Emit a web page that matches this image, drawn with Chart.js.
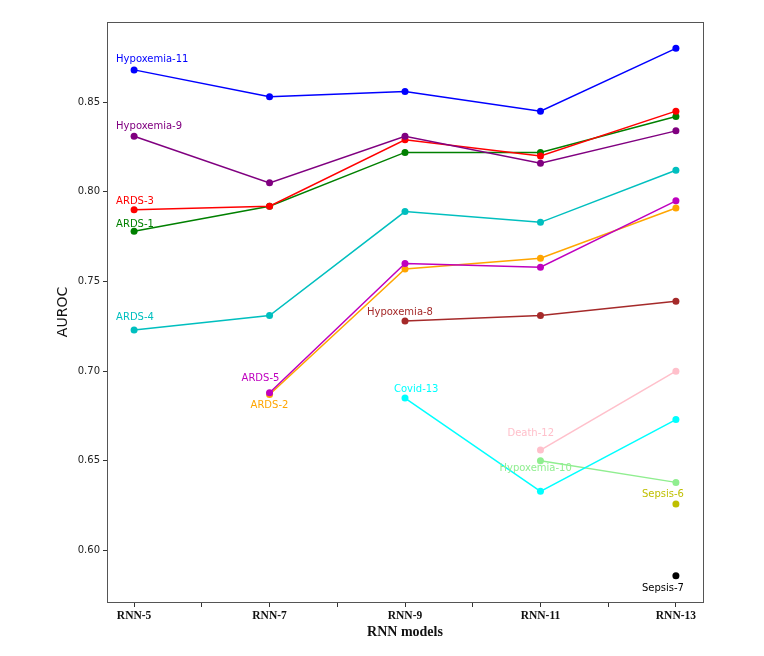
<!DOCTYPE html>
<html>
<head>
<meta charset="utf-8">
<script src="https://cdn.jsdelivr.net/npm/chart.js@4/dist/chart.umd.min.js"></script>
<style>
  body { margin: 0; background: #fff; }
</style>
</head>
<body>
<canvas id="chart" width="764" height="656"></canvas>
<script>
const models = ["RNN-5", "RNN-7", "RNN-9", "RNN-11", "RNN-13"];
const yTicks = [0.60, 0.65, 0.70, 0.75, 0.80, 0.85];
const xTicks = [0, 0.5, 1, 1.5, 2, 2.5, 3, 3.5, 4];

// AUROC per model, null where the task was not run
const hypoxemia11 = [0.868, 0.853, 0.856, 0.845, 0.880];
const hypoxemia9  = [0.831, 0.805, 0.831, 0.816, 0.834];
const ards3       = [0.790, 0.792, 0.829, 0.820, 0.845];
const ards1       = [0.778, 0.792, 0.822, 0.822, 0.842];
const ards4       = [0.723, 0.731, 0.789, 0.783, 0.812];
const ards5       = [null, 0.688, 0.760, 0.758, 0.795];
const ards2       = [null, 0.687, 0.757, 0.763, 0.791];
const hypoxemia8  = [null, null, 0.728, 0.731, 0.739];
const covid13     = [null, null, 0.685, 0.633, 0.673];
const death12     = [null, null, null, 0.656, 0.700];
const hypoxemia10 = [null, null, null, 0.650, 0.638];
const sepsis6     = [null, null, null, null, 0.626];
const sepsis7     = [null, null, null, null, 0.586];

const series = [
  { name: "Hypoxemia-11", values: hypoxemia11, color: "#0000ff", dx: -18, dy: -10 },
  { name: "Hypoxemia-9",  values: hypoxemia9,  color: "#800080", dx: -18, dy: -10 },
  { name: "ARDS-3",       values: ards3,       color: "#ff0000", dx: -18, dy: -8 },
  { name: "ARDS-1",       values: ards1,       color: "#008000", dx: -18, dy: -7 },
  { name: "ARDS-4",       values: ards4,       color: "#00bfbf", dx: -18, dy: -13 },
  { name: "ARDS-5",       values: ards5,       color: "#bf00bf", dx: -28, dy: -14 },
  { name: "ARDS-2",       values: ards2,       color: "#ffa500", dx: -19, dy: 11 },
  { name: "Hypoxemia-8",  values: hypoxemia8,  color: "#a52a2a", dx: -38, dy: -9 },
  { name: "Covid-13",     values: covid13,     color: "#00ffff", dx: -11, dy: -9 },
  { name: "Death-12",     values: death12,     color: "#ffc0cb", dx: -33, dy: -17 },
  { name: "Hypoxemia-10", values: hypoxemia10, color: "#90ee90", dx: -41, dy: 8 },
  { name: "Sepsis-6",     values: sepsis6,     color: "#bfbf00", dx: -34, dy: -9 },
  { name: "Sepsis-7",     values: sepsis7,     color: "#000000", dx: -34, dy: 13 },
];

const toPoints = vals => vals
  .map((v, i) => (v === null ? null : { x: i, y: v }))
  .filter(p => p !== null);

const seriesLabels = {
  id: "seriesLabels",
  afterDatasetsDraw(chart) {
    const ctx = chart.ctx;
    ctx.save();
    ctx.font = "10px 'DejaVu Sans'";
    ctx.textAlign = "left";
    ctx.textBaseline = "middle";
    chart.data.datasets.forEach((ds, i) => {
      const first = chart.getDatasetMeta(i).data[0];
      const s = series[i];
      ctx.fillStyle = s.color;
      ctx.fillText(s.name, first.x + s.dx, first.y + s.dy);
    });
    ctx.restore();
  },
};

const frame = {
  id: "frame",
  afterDraw(chart) {
    const { left, top, right, bottom } = chart.chartArea;
    const ctx = chart.ctx;
    ctx.save();
    ctx.strokeStyle = "#555";
    ctx.lineWidth = 1;
    ctx.strokeRect(Math.round(left) + 0.5, Math.round(top) + 0.5,
      Math.round(right - left), Math.round(bottom - top));
    ctx.restore();
  },
};

new Chart(document.getElementById("chart"), {
  type: "line",
  data: {
    datasets: series.map(s => ({
      label: s.name,
      data: toPoints(s.values),
      borderColor: s.color,
      backgroundColor: s.color,
      borderWidth: 1.5,
      pointRadius: 3.5,
      pointBorderWidth: 0,
      tension: 0,
    })),
  },
  options: {
    responsive: false,
    animation: false,
    devicePixelRatio: 1,
    layout: { padding: { top: 22, right: 61, left: 0, bottom: 0 } },
    plugins: {
      legend: { display: false },
      tooltip: { enabled: false },
    },
    scales: {
      x: {
        type: "linear",
        min: -0.2,
        max: 4.2,
        afterBuildTicks: s => { s.ticks = xTicks.map(v => ({ value: v })); },
        afterFit: s => { s.height = 54; },
        ticks: {
          autoSkip: false,
          maxRotation: 0,
          padding: 2,
          color: "#111",
          font: { family: "'Liberation Serif'", weight: "bold", size: 11.5 },
          callback: v => (Number.isInteger(v) ? models[v] : ""),
        },
        grid: { drawOnChartArea: false, tickLength: 5, color: "#333" },
        border: { display: false },
        title: {
          display: true,
          text: "RNN models",
          color: "#111",
          font: { family: "'Liberation Serif'", weight: "bold", size: 14 },
          padding: { top: 0, bottom: 15 },
        },
      },
      y: {
        min: 0.5713,
        max: 0.8947,
        afterBuildTicks: s => { s.ticks = yTicks.map(v => ({ value: v })); },
        afterFit: s => { s.width = 107; },
        ticks: {
          padding: 3,
          color: "#222",
          font: { family: "'DejaVu Sans'", size: 10 },
          callback: v => v.toFixed(2),
        },
        grid: { drawOnChartArea: false, tickLength: 4, color: "#333" },
        border: { display: false },
        title: {
          display: true,
          text: "AUROC",
          color: "#111",
          font: { family: "'DejaVu Sans'", size: 14 },
          padding: { top: 55, bottom: 0 },
        },
      },
    },
  },
  plugins: [seriesLabels, frame],
});
</script>
</body>
</html>
